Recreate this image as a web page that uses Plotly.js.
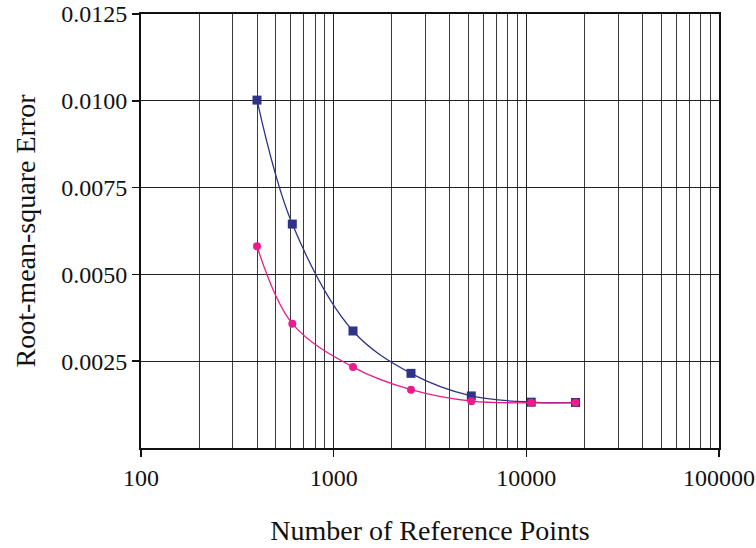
<!DOCTYPE html>
<html>
<head>
<meta charset="utf-8">
<script src="https://cdn.plot.ly/plotly-3.0.1.min.js"></script>
<style>html,body{margin:0;padding:0;background:#fff;}#chart{width:756px;height:548px;}</style>
</head>
<body>
<div id="chart"></div>
<script>
const refPoints = [400, 610, 1260, 2520, 5180, 10600, 18000];
const rmseSeriesA = [0.01002, 0.00645, 0.00337, 0.00215, 0.00150, 0.00132, 0.00131];
const rmseSeriesB = [0.00581, 0.00358, 0.00233, 0.00168, 0.00135, 0.00130, 0.00130];
const yTickVals = [0.0025, 0.0050, 0.0075, 0.0100, 0.0125];
const yTickText = ['0.0025', '0.0050', '0.0075', '0.0100', '0.0125'];
const xTickVals = [100, 1000, 10000, 100000];
const xTickText = ['100', '1000', '10000', '100000'];

const font = '"Liberation Serif"';

const traces = [
  {
    x: refPoints, y: rmseSeriesA, type: 'scatter', mode: 'lines+markers',
    line: {color: '#2E3388', width: 1.3, shape: 'spline', smoothing: 1},
    marker: {symbol: 'square', size: 9, color: '#2E3388'},
    showlegend: false
  },
  {
    x: refPoints, y: rmseSeriesB, type: 'scatter', mode: 'lines+markers',
    line: {color: '#EC1C8C', width: 1.3, shape: 'spline', smoothing: 1},
    marker: {symbol: 'circle', size: 8, color: '#EC1C8C'},
    showlegend: false
  }
];

const layout = {
  width: 756, height: 548,
  margin: {l: 140.5, r: 37, t: 14, b: 100},
  paper_bgcolor: '#fff', plot_bgcolor: '#fff',
  font: {family: font, size: 24, color: '#111'},
  xaxis: {
    type: 'log', range: [2, 5],
    tickmode: 'array', tickvals: xTickVals, ticktext: xTickText,
    ticks: 'outside', ticklen: 7, tickwidth: 1.5, tickcolor: '#111',
    showline: true, linecolor: '#111', linewidth: 2, mirror: true,
    showgrid: true, gridcolor: '#222', gridwidth: 1,
    minor: {dtick: 'D1', showgrid: true, gridcolor: '#3a3a3a', gridwidth: 1, ticks: ''},
    tickfont: {family: font, size: 24, color: '#111'},
    title: {text: 'Number of Reference Points', font: {family: font, size: 28, color: '#111'}, standoff: 31},
    zeroline: false, fixedrange: true
  },
  yaxis: {
    range: [0, 0.0125],
    tickmode: 'array', tickvals: yTickVals, ticktext: yTickText,
    ticks: 'outside', ticklen: 7, tickwidth: 1.5, tickcolor: '#111',
    showline: true, linecolor: '#111', linewidth: 2, mirror: true,
    showgrid: true, gridcolor: '#222', gridwidth: 1,
    tickfont: {family: font, size: 24, color: '#111'},
    title: {text: 'Root-mean-square Error', font: {family: font, size: 28, color: '#111'}, standoff: 17},
    zeroline: false, fixedrange: true
  }
};

Plotly.newPlot('chart', traces, layout, {displayModeBar: false, staticPlot: true});
</script>
</body>
</html>
